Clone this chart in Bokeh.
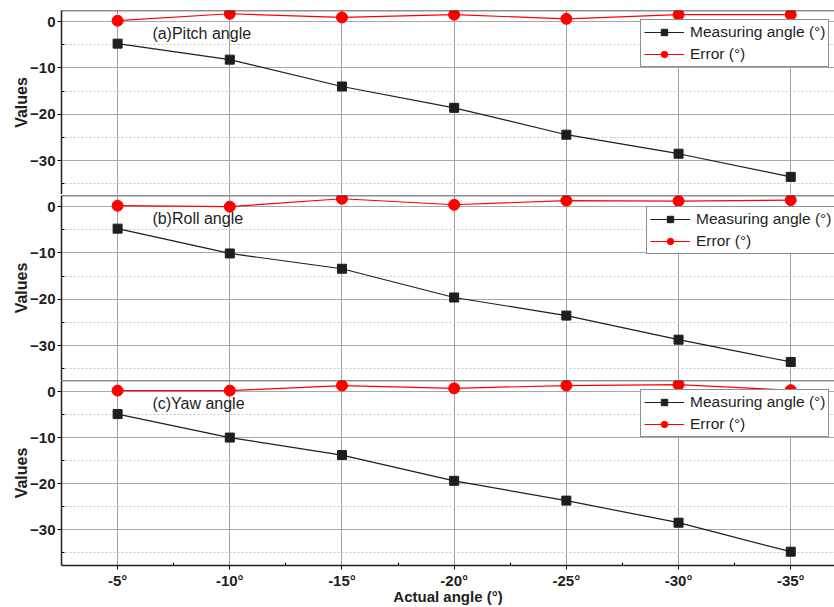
from bokeh.plotting import figure
from bokeh.layouts import column
from bokeh.models import FixedTicker, Span, Label, Legend, LegendItem, Range1d
from bokeh.embed import file_html
from bokeh.resources import INLINE

categories = ["-5°", "-10°", "-15°", "-20°", "-25°", "-30°", "-35°"]
panel_titles = ["(a)Pitch angle", "(b)Roll angle", "(c)Yaw angle"]
pitch_measured = [-4.75, -8.2, -14.0, -18.6, -24.4, -28.5, -33.5]
pitch_error = [0.2, 1.7, 0.9, 1.5, 0.6, 1.5, 1.5]
roll_measured = [-4.75, -10.1, -13.4, -19.6, -23.5, -28.7, -33.5]
roll_error = [0.2, 0.0, 1.7, 0.4, 1.3, 1.2, 1.4]
yaw_measured = [-4.9, -10.0, -13.8, -19.4, -23.7, -28.5, -34.8]
yaw_error = [0.2, 0.2, 1.3, 0.7, 1.3, 1.5, 0.3]
y_major = [0, -10, -20, -30]
y_minor = [-5, -15, -25, -35]

FONT = "Liberation Sans"
BLACK = "#1e1e1e"
RED = "#ff0000"
xs = list(range(len(categories)))

panels = [(pitch_measured, pitch_error), (roll_measured, roll_error), (yaw_measured, yaw_error)]
legend_pos = [(579, 127), (585, 126), (579, 128)]
heights = [194, 186, 227]
tops = [10, 1, 0]
ranges = [(-37.3, 2.4), (-37.5, 2.4), (-37.8, 2.4)]
figs = []
for i, (meas, err) in enumerate(panels):
    last = i == 2
    p = figure(width=834, height=heights[i], output_backend="svg", toolbar_location=None,
               x_range=Range1d(-0.5, 6.39), y_range=Range1d(*ranges[i]),
               x_axis_location="below" if last else None,
               min_border_left=61, min_border_right=0,
               min_border_top=tops[i],
               min_border_bottom=41 if last else 0)
    p.outline_line_color = None
    p.background_fill_color = "white"
    p.border_fill_color = "white"

    # grids
    p.xgrid.ticker = FixedTicker(ticks=xs)
    p.xgrid.grid_line_color = "#a0a0a0"
    p.xgrid.grid_line_width = 1
    p.ygrid.ticker = FixedTicker(ticks=y_major, minor_ticks=y_minor)
    p.ygrid.grid_line_color = "#a8a8a8"
    p.ygrid.minor_grid_line_color = "#c8c8c8"
    p.ygrid.minor_grid_line_dash = "2 2"

    # y axis
    ya = p.yaxis[0]
    ya.ticker = FixedTicker(ticks=y_major, minor_ticks=y_minor)
    ya.axis_line_color = BLACK
    ya.axis_line_width = 1.5
    ya.major_tick_in = 0
    ya.major_tick_out = 4
    ya.minor_tick_in = 3
    ya.minor_tick_out = 0
    ya.major_label_text_font = FONT
    ya.major_label_text_font_style = "bold"
    ya.major_label_text_font_size = "15px"
    ya.major_label_text_color = BLACK
    ya.axis_label = "Values"
    ya.axis_label_text_font = FONT
    ya.axis_label_text_font_style = "bold"
    ya.axis_label_text_font_size = "16px"
    ya.axis_label_text_color = BLACK
    ya.axis_label_standoff = -3
    ya.major_label_standoff = 2

    if last:
        xa = p.xaxis[0]
        xa.ticker = FixedTicker(ticks=xs, minor_ticks=[x + 0.5 for x in xs])
        xa.major_label_overrides = {x: c for x, c in zip(xs, categories)}
        xa.axis_line_color = BLACK
        xa.axis_line_width = 1.5
        xa.major_tick_in = 0
        xa.major_tick_out = 4
        xa.minor_tick_in = 3
        xa.minor_tick_out = 0
        xa.major_label_text_font = FONT
        xa.major_label_text_font_style = "bold"
        xa.major_label_text_font_size = "15px"
        xa.major_label_text_color = BLACK
        xa.major_label_standoff = 2
        xa.axis_label = "Actual angle (°)"
        xa.axis_label_text_font = FONT
        xa.axis_label_text_font_style = "bold"
        xa.axis_label_text_font_size = "15px"
        xa.axis_label_text_color = BLACK
        xa.axis_label_standoff = -4

    # top border
    p.add_layout(Span(location=2.4, dimension="width", line_color=BLACK, line_width=1.5))

    l1 = p.line(xs, meas, line_color=BLACK, line_width=1.2)
    s1 = p.scatter(xs, meas, marker="square", size=9, fill_color=BLACK, line_color=BLACK)
    l2 = p.line(xs, err, line_color=RED, line_width=1.2)
    s2 = p.scatter(xs, err, marker="circle", size=11, fill_color=RED, line_color=RED)

    p.add_layout(Label(x=0.31, y=-2.6, text=panel_titles[i], text_font=FONT,
                       text_font_size="16px", text_color=BLACK, text_baseline="middle"))

    leg = Legend(items=[LegendItem(label="Measuring angle (°)", renderers=[l1, s1]),
                        LegendItem(label="Error (°)", renderers=[l2, s2])],
                 location=legend_pos[i])
    leg.label_text_font = FONT
    leg.label_text_font_size = "15.5px"
    leg.label_text_color = BLACK
    leg.border_line_color = BLACK
    leg.border_line_width = 1.5
    leg.background_fill_alpha = 1
    leg.glyph_width = 40
    leg.glyph_height = 16
    leg.label_height = 16
    leg.spacing = 4
    leg.padding = 3
    leg.margin = 0
    leg.label_standoff = 6
    p.add_layout(leg, "center")
    figs.append(p)

layout = column(*figs, spacing=0)
open("out.html", "w").write(file_html(layout, INLINE))
